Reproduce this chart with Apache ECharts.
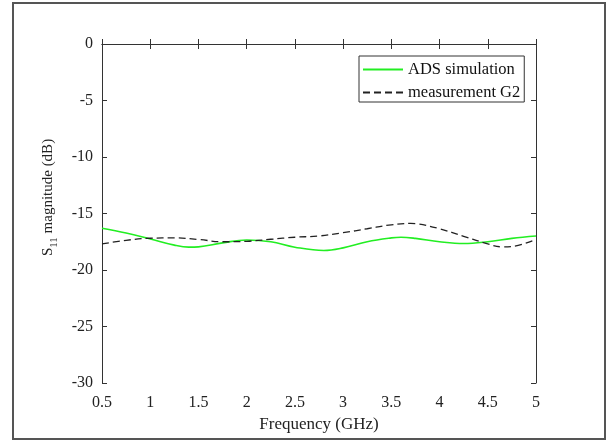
<!DOCTYPE html>
<html>
<head>
<meta charset="utf-8">
<script src="https://cdn.jsdelivr.net/npm/echarts@6/dist/echarts.min.js"></script>
<style>html,body{margin:0;padding:0;background:#fff}#c{width:615px;height:441px}</style>
</head>
<body>
<div id="c"></div>
<script>
var freqSim = [0.5, 0.75, 1.0, 1.25, 1.4, 1.5, 1.75, 2.0, 2.25, 2.5, 2.8, 3.0, 3.25, 3.5, 3.6, 3.75, 4.0, 4.25, 4.5, 4.75, 5.0];
var simValues = [-16.3, -16.72, -17.25, -17.8, -17.98, -17.95, -17.6, -17.34, -17.5, -17.98, -18.27, -18.04, -17.5, -17.16, -17.1, -17.2, -17.5, -17.66, -17.5, -17.2, -16.99];
var freqMeas = [0.5, 0.75, 1.0, 1.25, 1.5, 1.75, 2.0, 2.25, 2.5, 2.75, 3.0, 3.25, 3.5, 3.7, 3.75, 4.0, 4.25, 4.5, 4.65, 4.75, 5.0];
var measValues = [-17.69, -17.37, -17.19, -17.16, -17.3, -17.5, -17.46, -17.28, -17.1, -16.99, -16.7, -16.35, -16.0, -15.88, -15.9, -16.35, -17.02, -17.69, -17.95, -17.92, -17.28];
var seriesNames = ['ADS simulation', 'measurement G2'];

function pairs(xs, ys) { return xs.map(function (x, i) { return [x, ys[i]]; }); }

var font = 'Liberation Serif';
var axisColor = '#333';
var chart = echarts.init(document.getElementById('c'), null, {renderer: 'canvas'});
chart.setOption({
  animation: false,
  backgroundColor: '#fff',
  grid: {left: 102, top: 44, right: 79, bottom: 58},
  legend: {
    left: 359, top: 56, orient: 'vertical',
    data: seriesNames,
    backgroundColor: '#fff', borderColor: '#333', borderWidth: 1,
    padding: [5, 4, 1, 3],
    itemWidth: 40, itemHeight: 14, itemGap: 6,
    itemStyle: {opacity: 0},
    textStyle: {fontFamily: font, fontSize: 16.5, color: '#111'}
  },
  xAxis: [{
    type: 'value', min: 0.5, max: 5, interval: 0.5,
    name: 'Frequency (GHz)', nameLocation: 'middle', nameGap: 30,
    nameTextStyle: {fontFamily: font, fontSize: 17, color: '#222'},
    axisLine: {show: true, lineStyle: {color: axisColor, width: 1}},
    axisTick: {show: true, inside: true, length: 5, lineStyle: {color: axisColor}},
    axisLabel: {fontFamily: font, fontSize: 16, color: '#222', margin: 12},
    splitLine: {show: false}
  }, {
    type: 'value', min: 0.5, max: 5, interval: 0.5, position: 'top',
    axisLine: {show: true, onZero: false, lineStyle: {color: axisColor, width: 1}},
    axisTick: {show: true, inside: true, length: 5, lineStyle: {color: axisColor}},
    axisLabel: {show: false}, splitLine: {show: false}
  }],
  yAxis: [{
    type: 'value', min: -30, max: 0, interval: 5,
    name: '{a|S}{b|11}{a| magnitude (dB)}', nameLocation: 'middle', nameGap: 46,
    nameTextStyle: {
      fontFamily: font, fontSize: 15, color: '#222', padding: [0, 0, 0, 32],
      rich: {
        a: {fontFamily: font, fontSize: 15, color: '#222', verticalAlign: 'bottom', lineHeight: 19},
        b: {fontFamily: font, fontSize: 11, color: '#222', verticalAlign: 'bottom', lineHeight: 11, padding: [0, 0, -4, 0]}
      }
    },
    axisLine: {show: true, lineStyle: {color: axisColor, width: 1}},
    axisTick: {show: true, inside: true, length: 5, lineStyle: {color: axisColor}},
    axisLabel: {fontFamily: font, fontSize: 16, color: '#222', margin: 9},
    splitLine: {show: false}
  }, {
    type: 'value', min: -30, max: 0, interval: 5, position: 'right',
    axisLine: {show: true, onZero: false, lineStyle: {color: axisColor, width: 1}},
    axisTick: {show: true, inside: true, length: 5, lineStyle: {color: axisColor}},
    axisLabel: {show: false}, splitLine: {show: false}
  }],
  graphic: [{
    type: 'rect', shape: {x: 13, y: 3, width: 592, height: 436},
    style: {fill: null, stroke: '#555', lineWidth: 2}, silent: true
  }],
  series: [{
    name: seriesNames[0], type: 'line', smooth: 0.4, symbol: 'none',
    data: pairs(freqSim, simValues),
    lineStyle: {color: '#22ee22', width: 1.6},
    itemStyle: {color: '#22ee22'}
  }, {
    name: seriesNames[1], type: 'line', smooth: 0.4, symbol: 'none',
    data: pairs(freqMeas, measValues),
    lineStyle: {color: '#222', width: 1.3, type: [7, 4]},
    itemStyle: {color: '#222'}
  }]
});
</script>
</body>
</html>
